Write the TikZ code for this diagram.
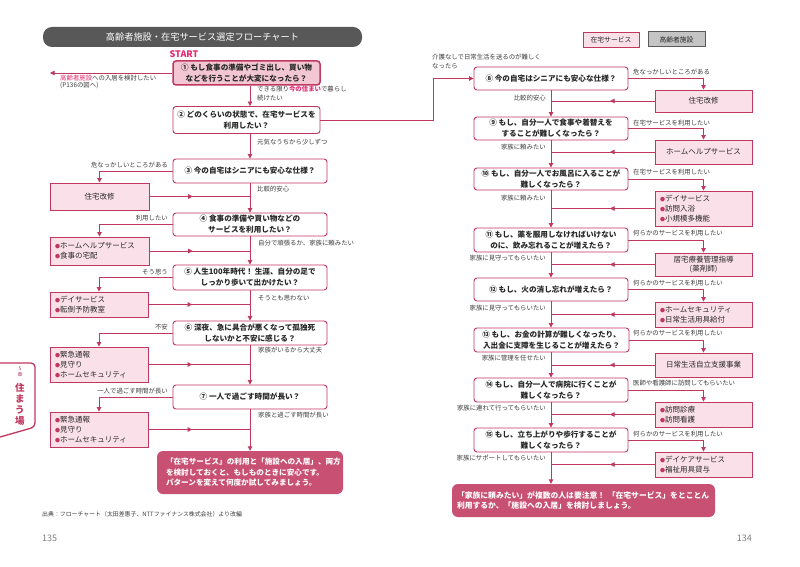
\documentclass[tikz,border=0pt]{standalone}
\usepackage{fontspec}
\setmainfont{Noto Sans CJK JP}
\usetikzlibrary{arrows.meta,decorations.markings}
\definecolor{lineC}{RGB}{192,56,96}
\definecolor{boxFill}{RGB}{250,224,232}
\definecolor{qOneFill}{RGB}{242,198,211}
\definecolor{finC}{RGB}{200,80,114}
\definecolor{titleC}{RGB}{88,88,88}
\definecolor{hotC}{RGB}{228,40,110}
\definecolor{labC}{RGB}{60,60,60}
\definecolor{txtC}{RGB}{40,40,40}
\definecolor{legGray}{RGB}{196,196,196}
\definecolor{legDark}{RGB}{90,90,90}
\newcommand{\pbul}{{\color{lineC}\fontsize{5}{5}\selectfont ●}}
\begin{document}
\begin{tikzpicture}[x=1pt,y=-1pt,
  qbox/.style={draw=lineC,line width=0.9pt,rounded corners=3pt,fill=white,align=center,inner sep=0pt,text=txtC,font=\bfseries\fontsize{7.6}{11}\selectfont},
  sbox/.style={draw=lineC,line width=0.9pt,fill=boxFill,inner xsep=5pt,inner ysep=0pt,text=txtC,font=\fontsize{7.5}{9.8}\selectfont},
  lab/.style={inner sep=0pt,text=labC,font=\fontsize{6.4}{9}\selectfont,align=left},
  fbox/.style={fill=finC,rounded corners=6pt,text=white,align=left,inner ysep=0pt,font=\bfseries\fontsize{7.6}{10.5}\selectfont},
  conn/.style={draw=lineC,color=lineC,line width=0.9pt},
  arr/.style={conn,-{Triangle[length=4.5pt,width=4.5pt]}},
  midarr/.style={conn,postaction={decorate},decoration={markings,mark=at position 0.43 with {\arrow{Triangle[length=4.5pt,width=4.5pt]}}}},
]
\useasboundingbox (0,0) rectangle (800,567);
\fill[white] (0,0) rectangle (800,567);

% ---------- left page ----------
\node[fill=titleC,rounded corners=9pt,minimum width=319pt,minimum height=20pt,inner sep=0pt,text=white,font=\fontsize{9.2}{10}\selectfont] (title) at (202.5,37) {高齢者施設・在宅サービス選定フローチャート};
\node[inner sep=0pt,text=hotC,font=\bfseries\fontsize{9}{10}\selectfont] (start) at (184,54) {START};

\coordinate (mL) at (250,0);
\coordinate (kx) at (433,100);
\coordinate (e1) at (50,73);

\node[qbox,fill=qOneFill,line width=1.5pt,minimum width=147pt,minimum height=24pt] (q1) at (246.5,73) {① もし食事の準備やゴミ出し、買い物\\などを行うことが大変になったら？};
\node[qbox,minimum width=147pt,minimum height=27pt] (q2) at (246.5,120) {② どのくらいの状態で、在宅サービスを\\利用したい？};
\node[qbox,minimum width=154pt,minimum height=24pt] (q3) at (250,171) {③ 今の自宅はシニアにも安心な仕様？};
\node[qbox,minimum width=154pt,minimum height=23pt] (q4) at (250,224.5) {④ 食事の準備や買い物などの\\サービスを利用したい？};
\node[qbox,minimum width=154pt,minimum height=25pt] (q5) at (250,277.5) {⑤ 人生100年時代！ 生涯、自分の足で\\しっかり歩いて出かけたい？};
\node[qbox,minimum width=154pt,minimum height=24pt] (q6) at (250,333) {⑥ 深夜、急に具合が悪くなって孤独死\\しないかと不安に感じる？};
\node[qbox,minimum width=154pt,minimum height=24pt] (q7) at (250,397) {⑦ 一人で過ごす時間が長い？};

\node[sbox,text width=89pt,align=center,minimum height=27pt] (s3) at (99.5,196.5) {住宅改修};
\node[sbox,text width=89pt,align=left,minimum height=28pt] (s4) at (99.5,251) {\pbul ホームヘルプサービス\\\pbul 食事の宅配};
\node[sbox,text width=88pt,align=left,minimum height=25pt] (s5) at (99,304.5) {\pbul デイサービス\\\pbul 転倒予防教室};
\node[sbox,text width=88pt,align=left,minimum height=35pt] (s6) at (99,364.5) {\pbul 緊急通報\\\pbul 見守り\\\pbul ホームセキュリティ};
\node[sbox,text width=88pt,align=left,minimum height=35pt] (s7) at (99,429.5) {\pbul 緊急通報\\\pbul 見守り\\\pbul ホームセキュリティ};

\node[fbox,text width=168pt,inner xsep=9pt,minimum height=43pt] (f1) at (250,472.5) {「在宅サービス」の利用と「施設への入居」、両方\\を検討しておくと、もしものときに安心です。\\パターンを変えて何度か試してみましょう。};

\node[lab,anchor=north west,font=\fontsize{6.4}{7.6}\selectfont] (l1) at (60,74.5) {\textcolor{hotC}{高齢者施設}への入居を検討したい\\(P136の図へ)};
\node[lab,anchor=north west] (l2) at (257,86) {できる限り\textcolor{hotC}{\textbf{今の住まい}}で暮らし\\続けたい};
\node[lab,anchor=west] (l3) at (257,142) {元気なうちから少しずつ};
\node[lab,anchor=east] (l4) at (168,165) {危なっかしいところがある};
\node[lab,anchor=west] (l5) at (257,189) {比較的安心};
\node[lab,anchor=east] (l6) at (168,218) {利用したい};
\node[lab,anchor=west] (l7) at (258,243) {自分で頑張るか、家族に頼みたい};
\node[lab,anchor=east] (l8) at (168,272) {そう思う};
\node[lab,anchor=west] (l9) at (258,298) {そうとも思わない};
\node[lab,anchor=east] (l10) at (168,327) {不安};
\node[lab,anchor=west] (l11) at (258,350) {家族がいるから大丈夫};
\node[lab,anchor=east] (l12) at (168,391) {一人で過ごす時間が長い};
\node[lab,anchor=west] (l13) at (258,415) {家族と過ごす時間が長い};

\node[anchor=west,inner sep=0pt,text=labC,font=\fontsize{5.9}{7}\selectfont] (src) at (42,514) {出典：フローチャート（太田差惠子、NTTファイナンス株式会社）より改編};
\node[anchor=west,inner sep=0pt,text=gray,font=\fontsize{9}{10}\selectfont] (pn1) at (42,538) {135};

% side tab
\draw[draw=lineC,line width=1.3pt,fill=white,rounded corners=4pt] (0,363) -- (35,363) -- (35,427) -- (0,437);
\node[inner sep=0pt,align=center,text=lineC,font=\fontsize{5}{5.5}\selectfont] (t5) at (20,372) {5\\章};
\node[inner sep=0pt,align=center,text=lineC,font=\bfseries\fontsize{9.5}{11}\selectfont] (t6) at (20,404) {住\\ま\\う\\場};

% left connectors
\draw[arr] (q1.west) -- (e1);
\draw[arr] (q1.south -| mL) -- (q2.north -| mL);
\draw[arr] (q2.south -| mL) -- (q3.north);
\draw[arr] (q3.south) -- (q4.north);
\draw[arr] (q4.south) -- (q5.north);
\draw[arr] (q5.south) -- (q6.north);
\draw[arr] (q6.south) -- (q7.north);
\draw[arr] (q7.south) -- (f1.north);
\draw[arr] (q3.west) -| (s3.north);
\draw[arr] (q4.west) -| (s4.north);
\draw[arr] (q5.west) -| (s5.north);
\draw[arr] (q6.west) -| (s6.north);
\draw[arr] (q7.west) -| (s7.north);
\draw[midarr] (s3.east) -- (s3.east -| mL);
\draw[midarr] (s4.east) -- (s4.east -| mL);
\draw[midarr] (s5.east) -- (s5.east -| mL);
\draw[midarr] (s6.east) -- (s6.east -| mL);
\draw[midarr] (s7.east) -- (s7.east -| mL);

% ---------- right page ----------
\node[draw=lineC,line width=0.9pt,fill=boxFill,minimum width=56pt,minimum height=15pt,inner sep=0pt,text=txtC,font=\fontsize{6.8}{8}\selectfont] (lg1) at (611,39.5) {在宅サービス};
\node[draw=legDark,line width=1pt,fill=legGray,minimum width=57pt,minimum height=15pt,inner sep=0pt,text=txtC,font=\fontsize{6.8}{8}\selectfont] (lg2) at (676.5,39.5) {高齢者施設};

\node[qbox,minimum width=154pt,minimum height=23pt] (q8) at (551,78.5) {⑧ 今の自宅はシニアにも安心な仕様？};
\node[qbox,minimum width=154pt,minimum height=23pt] (q9) at (551,128.5) {⑨ もし、自分一人で食事や着替えを\\することが難しくなったら？};
\node[qbox,minimum width=154pt,minimum height=22pt] (q10) at (551,179) {⑩ もし、自分一人でお風呂に入ることが\\難しくなったら？};
\node[qbox,minimum width=154pt,minimum height=24pt] (q11) at (551,240) {⑪ もし、薬を服用しなければいけない\\のに、飲み忘れることが増えたら？};
\node[qbox,minimum width=154pt,minimum height=23pt] (q12) at (551,289.5) {⑫ もし、火の消し忘れが増えたら？};
\node[qbox,minimum width=155pt,minimum height=24pt] (q13) at (551.5,340) {⑬ もし、お金の計算が難しくなったり、\\入出金に支障を生じることが増えたら？};
\node[qbox,minimum width=154pt,minimum height=24pt] (q14) at (551,390) {⑭ もし、自分一人で病院に行くことが\\難しくなったら？};
\node[qbox,minimum width=154pt,minimum height=24pt] (q15) at (551,440) {⑮ もし、立ち上がりや歩行することが\\難しくなったら？};

\node[sbox,text width=87pt,align=center,minimum height=22pt] (s8) at (703.5,101) {住宅改修};
\node[sbox,text width=87pt,align=center,minimum height=24pt] (s9) at (703.5,152) {ホームヘルプサービス};
\node[sbox,text width=87pt,align=left,minimum height=35pt] (s10) at (703.5,208.5) {\pbul デイサービス\\\pbul 訪問入浴\\\pbul 小規模多機能};
\node[sbox,text width=87pt,align=center,minimum height=23pt] (s11) at (703.5,264.5) {居宅療養管理指導\\(薬剤師)};
\node[sbox,text width=87pt,align=left,minimum height=25pt] (s12) at (703.5,314.5) {\pbul ホームセキュリティ\\\pbul 日常生活用具給付};
\node[sbox,text width=87pt,align=center,minimum height=24pt] (s13) at (703.5,365) {日常生活自立支援事業};
\node[sbox,text width=87pt,align=left,minimum height=25pt] (s14) at (703.5,414.5) {\pbul 訪問診療\\\pbul 訪問看護};
\node[sbox,text width=87pt,align=left,minimum height=25pt] (s15) at (703.5,464.5) {\pbul デイケアサービス\\\pbul 福祉用具貸与};

\node[fbox,text width=253pt,inner xsep=5pt,minimum height=33pt,font=\bfseries\fontsize{7.8}{10.5}\selectfont] (f2) at (583.5,500.5) {「家族に頼みたい」が複数の人は要注意！ 「在宅サービス」をとことん\\利用するか、「施設への入居」を検討しましょう。};

\node[lab,anchor=north west,font=\fontsize{6.4}{9}\selectfont] (r0) at (432,54) {介護なしで日常生活を送るのが難しく\\なったら};
\node[lab,anchor=west] (r1) at (633,72) {危なっかしいところがある};
\node[lab,anchor=east] (r2) at (546,98) {比較的安心};
\node[lab,anchor=west] (r3) at (633,123) {在宅サービスを利用したい};
\node[lab,anchor=east] (r4) at (546,147) {家族に頼みたい};
\node[lab,anchor=west] (r5) at (633,172) {在宅サービスを利用したい};
\node[lab,anchor=east] (r6) at (546,198) {家族に頼みたい};
\node[lab,anchor=west] (r7) at (633,233) {何らかのサービスを利用したい};
\node[lab,anchor=east] (r8) at (546,258) {家族に見守ってもらいたい};
\node[lab,anchor=west] (r9) at (633,283) {何らかのサービスを利用したい};
\node[lab,anchor=east] (r10) at (546,308) {家族に見守ってもらいたい};
\node[lab,anchor=west] (r11) at (633,333) {何らかのサービスを利用したい};
\node[lab,anchor=east] (r12) at (546,358) {家族に管理を任せたい};
\node[lab,anchor=west] (r13) at (633,383) {医師や看護師に訪問してもらいたい};
\node[lab,anchor=east] (r14) at (546,408) {家族に連れて行ってもらいたい};
\node[lab,anchor=west] (r15) at (633,434) {何らかのサービスを利用したい};
\node[lab,anchor=east] (r16) at (546,458) {家族にサポートしてもらいたい};

\node[anchor=east,inner sep=0pt,text=gray,font=\fontsize{9}{10}\selectfont] (pn2) at (752,538) {134};

% right connectors
\draw[arr] (q2.east) -- (q2.east -| kx) |- (q8.west);
\draw[arr] (q8.south) -- (q9.north);
\draw[arr] (q9.south) -- (q10.north);
\draw[arr] (q10.south) -- (q11.north);
\draw[arr] (q11.south) -- (q12.north);
\draw[arr] (q12.south) -- (q13.north -| q12.south);
\draw[arr] (q13.south -| q12.south) -- (q14.north);
\draw[arr] (q14.south) -- (q15.north);
\draw[arr] (q15.south) -- (q15.south |- f2.north);
\draw[arr] (q8.east) -| (s8.north);
\draw[arr] (q9.east) -| (s9.north);
\draw[arr] (q10.east) -| (s10.north);
\draw[arr] (q11.east) -| (s11.north);
\draw[arr] (q12.east) -| (s12.north);
\draw[arr] (q13.east) -| (s13.north);
\draw[arr] (q14.east) -| (s14.north);
\draw[arr] (q15.east) -| (s15.north);
\draw[midarr] (s8.west) -- (s8.west -| q8.south);
\draw[midarr] (s9.west) -- (s9.west -| q9.south);
\draw[midarr] (s10.west) -- (s10.west -| q10.south);
\draw[midarr] (s11.west) -- (s11.west -| q11.south);
\draw[midarr] (s12.west) -- (s12.west -| q12.south);
\draw[midarr] (s13.west) -- (s13.west -| q12.south);
\draw[midarr] (s14.west) -- (s14.west -| q14.south);
\draw[midarr] (s15.west) -- (s15.west -| q15.south);
\end{tikzpicture}
\end{document}
